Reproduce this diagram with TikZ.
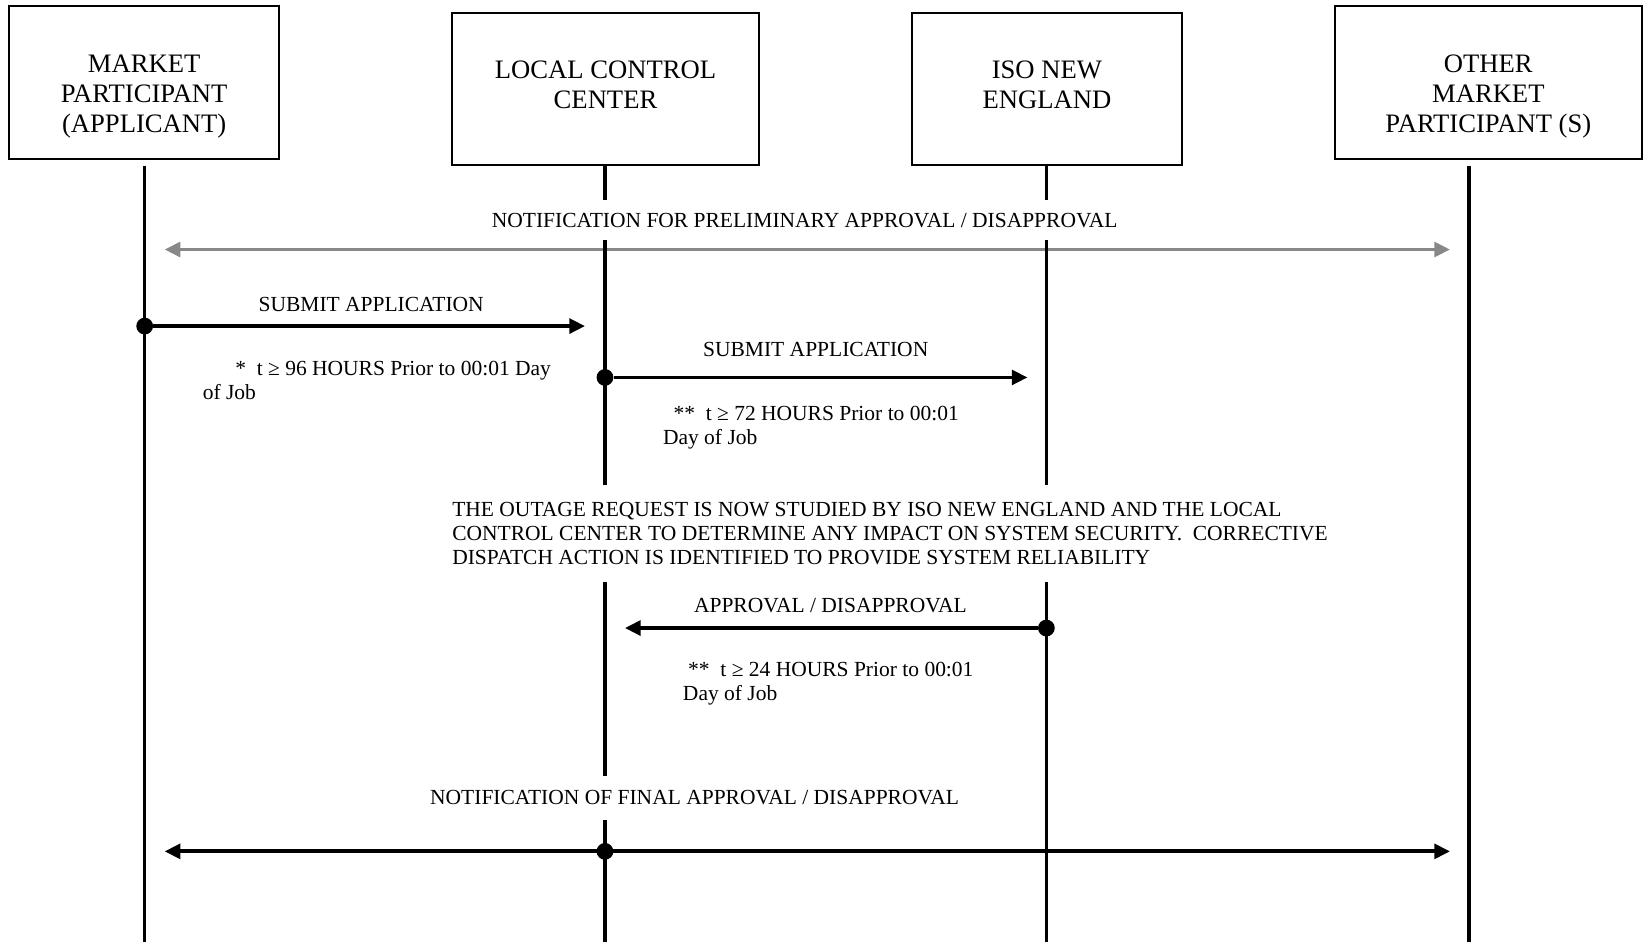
\documentclass[tikz,border=0pt]{standalone}
\usepackage{fontspec}
\setmainfont{Liberation Serif}
\usetikzlibrary{arrows.meta}
\definecolor{prelimgray}{RGB}{136,136,136}
\newcommand\actorfont{\fontsize{12.7pt}{14.5pt}\selectfont}
\newcommand\msgfont{\fontsize{10.25pt}{11.5pt}\selectfont}

\begin{document}
\begin{tikzpicture}[x=0.5pt,y=-0.5pt,
  >={Triangle[length=7.5pt,width=7pt]},
  actor/.style={draw,line width=1pt,rectangle,inner sep=0pt},
  actorname/.style={align=center,font=\actorfont,inner sep=0pt},
  life/.style={line width=1.6pt},
  msg/.style={line width=1.8pt,->},
  lifedot/.style={circle,fill=black,inner sep=0pt,minimum size=8pt},
  msgtext/.style={font=\msgfont,inner sep=0pt},
  note/.style={font=\msgfont,align=left,inner sep=0pt,anchor=north west},
  gaptext/.style={font=\msgfont,fill=white,inner xsep=2pt}]
\useasboundingbox (0,0) rectangle (1568,898);

% the four parties
\node[actor,minimum width=128.5pt,minimum height=73pt] (mp) at (137.5,79) {};
\node[actorname] (mpname) at (137.5,92) {MARKET\\PARTICIPANT\\(APPLICANT)};
\node[actor,minimum width=146.5pt,minimum height=72.5pt] (lcc) at (577.5,84.5) {};
\node[actorname] (lccname) at (577.5,81) {LOCAL CONTROL\\CENTER};
\node[actor,minimum width=128.5pt,minimum height=72.5pt] (iso) at (998.5,84.5) {};
\node[actorname] (isoname) at (998.5,81) {ISO NEW\\ENGLAND};
\node[actor,minimum width=146.5pt,minimum height=73pt] (omp) at (1419.5,79) {};
\node[actorname] (ompname) at (1419.5,92) {OTHER\\MARKET\\PARTICIPANT (S)};

\coordinate (mptop) at (138,158);   \coordinate (mpend) at (138,898);
\coordinate (lcctop) at (577,158);  \coordinate (lccend) at (577,898);
\coordinate (isotop) at (998,158);  \coordinate (isoend) at (998,898);
\coordinate (omptop) at (1401,158); \coordinate (ompend) at (1401,898);

% preliminary notice
\coordinate (prelimL) at (157,238);
\coordinate (prelimR) at (1383,238);
\draw[msg,<->,prelimgray] (prelimL) -- (prelimR);

% life lines
\draw[life] (mptop) -- (mpend);
\draw[life] (lcctop) -- (lccend);
\draw[life] (isotop) -- (isoend);
\draw[life] (omptop) -- (ompend);

% messages
\node[lifedot] (sub1dot) at (138,311) {};
\coordinate (sub1end) at (558,311);
\draw[msg] (sub1dot) -- (sub1end);
\node[lifedot] (sub2dot) at (577,360) {};
\coordinate (sub2end) at (980,360);
\draw[msg] (sub2dot) -- (sub2end);
\node[lifedot] (apprdot) at (998,599) {};
\coordinate (apprend) at (596,599);
\draw[msg] (apprdot) -- (apprend);
\coordinate (finalL) at (157,812);
\coordinate (finalR) at (1383,812);
\draw[msg,<->] (finalL) -- (finalR);
\node[lifedot] (finaldot) at (577,812) {};

% labels
\node[gaptext,inner ysep=6pt] (prelimtext) at (767.5,210) {NOTIFICATION FOR PRELIMINARY APPROVAL / DISAPPROVAL};
\node[msgtext] (sub1text) at (354,290) {SUBMIT APPLICATION};
\node[note] (sub1note) at (193,344) {\hspace*{15.5pt}*~~t ≥ 96 HOURS Prior to 00:01 Day\\of Job};
\node[msgtext] (sub2text) at (778,333) {SUBMIT APPLICATION};
\node[note] (sub2note) at (632,387) {\hspace*{5pt}**~~t ≥ 72 HOURS Prior to 00:01\\Day of Job};
\node[gaptext,inner ysep=8.25pt,align=left,anchor=west] (studytext) at (427,509) {THE OUTAGE REQUEST IS NOW STUDIED BY ISO NEW ENGLAND AND THE LOCAL\\CONTROL CENTER TO DETERMINE ANY IMPACT ON SYSTEM SECURITY.~~CORRECTIVE\\DISPATCH ACTION IS IDENTIFIED TO PROVIDE SYSTEM RELIABILITY};
\node[msgtext] (apprtext) at (792,578) {APPROVAL / DISAPPROVAL};
\node[note] (apprnote) at (651,631) {\hspace*{2.5pt}**~~t ≥ 24 HOURS Prior to 00:01\\Day of Job};
\node[gaptext,inner ysep=7pt] (finaltext) at (662.5,761) {NOTIFICATION OF FINAL APPROVAL / DISAPPROVAL};
\end{tikzpicture}
\end{document}
